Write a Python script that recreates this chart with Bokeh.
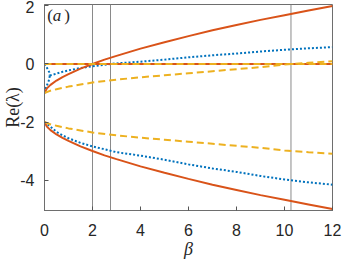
from bokeh.plotting import figure
from bokeh.models import Range1d, SingleIntervalTicker, LinearAxis, Span, Label, PrintfTickFormatter
from bokeh.embed import file_html
from bokeh.resources import INLINE

# ---- data ----
beta_o = [0, 0.1, 0.25, 0.5, 0.75, 1, 1.5, 2, 2.5, 3, 4, 5, 6, 7, 8, 9, 10, 11, 12]
orange_up = [-1.0, -0.84, -0.72, -0.57, -0.45, -0.35, -0.16, 0.0, 0.15, 0.28, 0.53,
             0.75, 0.96, 1.16, 1.34, 1.52, 1.68, 1.84, 2.0]
orange_low = [-2.0, -2.16, -2.28, -2.43, -2.55, -2.65, -2.84, -3.0, -3.15, -3.28, -3.53,
              -3.75, -3.96, -4.16, -4.34, -4.52, -4.68, -4.84, -5.0]

beta_y = [0, 0.25, 0.5, 1, 1.5, 2, 3, 4, 5, 6, 7, 8, 9, 10, 11, 12]
yellow_up = [-1.0, -0.92, -0.87, -0.78, -0.71, -0.64, -0.54, -0.46, -0.39, -0.32,
             -0.25, -0.18, -0.11, -0.02, 0.04, 0.09]
yellow_low = [-2.0, -2.08, -2.13, -2.22, -2.29, -2.36, -2.46, -2.54, -2.61, -2.68,
              -2.75, -2.82, -2.89, -2.98, -3.04, -3.09]

beta_b_pre = [0, 0.05, 0.1, 0.15, 0.2, 0.22]
blue_from0 = [0.0, -0.06, -0.13, -0.2, -0.29, -0.4]
blue_from1 = [-1.0, -0.84, -0.74, -0.64, -0.52, -0.4]
beta_b = [0.22, 0.5, 0.75, 1, 1.5, 2, 2.5, 2.75, 3, 4, 5, 6, 7, 8, 9, 10, 11, 12]
blue_re = [-0.4, -0.33, -0.27, -0.22, -0.14, -0.08, -0.03, 0.0, 0.02, 0.08, 0.15,
           0.23, 0.3, 0.36, 0.43, 0.49, 0.54, 0.58]
beta_bl = [0, 0.1, 0.22, 0.5, 0.75, 1, 1.5, 2, 2.5, 3, 4, 5, 6, 7, 8, 9, 10, 11, 12]
blue_low = [-2.0, -2.07, -2.14, -2.34, -2.46, -2.56, -2.72, -2.84, -2.94, -3.04, -3.16,
            -3.3, -3.46, -3.6, -3.72, -3.86, -3.98, -4.08, -4.16]

beta_zero = [0, 12]
zero_re = [0, 0]

crossings = [2.0, 2.75, 10.27]

BLUE = "#0072BD"
ORANGE = "#D95319"
YELLOW = "#EDB120"
AX = "#262626"

p = figure(width=342, height=261, output_backend="svg", toolbar_location=None,
           x_range=Range1d(0, 12), y_range=Range1d(-5.05, 2.05),
           min_border_left=43, min_border_right=10, min_border_top=4, min_border_bottom=48,
           x_axis_type=None, y_axis_type=None)
p.outline_line_color = "#6e6e6e"
p.outline_line_width = 1
p.background_fill_color = "white"
p.border_fill_color = "white"

xt = SingleIntervalTicker(interval=2, num_minor_ticks=4)
yt = SingleIntervalTicker(interval=2, num_minor_ticks=4)


def style_axis(ax):
    ax.axis_line_color = "#6e6e6e"
    ax.major_tick_in = 4
    ax.major_tick_out = 0
    ax.major_tick_line_color = "#555555"
    ax.minor_tick_line_color = None
    ax.major_label_text_color = AX
    ax.major_label_text_font = "Liberation Sans"
    ax.major_label_text_font_size = "16px"
    ax.formatter = PrintfTickFormatter(format="%d")


xb = LinearAxis(ticker=xt)
style_axis(xb)
xb.major_label_standoff = 9
xb.axis_label = "β"
xb.axis_label_text_font = "Liberation Serif"
xb.axis_label_text_font_style = "italic"
xb.axis_label_text_font_size = "18px"
xb.axis_label_text_color = AX
xb.axis_label_standoff = 0
p.add_layout(xb, "below")

yl = LinearAxis(ticker=yt)
style_axis(yl)
yl.major_label_standoff = 6
yl.axis_label = "Re(λ)"
yl.axis_label_text_font = "Liberation Serif"
yl.axis_label_text_font_style = "normal"
yl.axis_label_text_font_size = "18px"
yl.axis_label_text_color = AX
yl.axis_label_standoff = -6
p.add_layout(yl, "left")

p.xgrid.ticker = xt
p.ygrid.ticker = yt
for g in (p.xgrid, p.ygrid):
    g.grid_line_color = "#dedede"
    g.grid_line_width = 1
    g.minor_grid_line_color = "#cfcfcf"
    g.minor_grid_line_dash = "1 2"
    g.minor_grid_line_width = 1

for c in crossings:
    p.add_layout(Span(location=c, dimension="height", line_color="#8a8a8a",
                      line_width=1, level="underlay"))

LW = 2
# blue dotted
p.line(beta_b_pre, blue_from0, line_color=BLUE, line_width=LW, line_dash="2 2")
p.line(beta_b_pre, blue_from1, line_color=BLUE, line_width=LW, line_dash="2 2")
p.line(beta_b, blue_re, line_color=BLUE, line_width=LW, line_dash="2 2")
p.line(beta_bl, blue_low, line_color=BLUE, line_width=LW, line_dash="2 2")
# orange solid
p.line(beta_zero, zero_re, line_color=ORANGE, line_width=LW)
p.line(beta_o, orange_up, line_color=ORANGE, line_width=LW)
p.line(beta_o, orange_low, line_color=ORANGE, line_width=LW)
# yellow dashed
p.line(beta_zero, zero_re, line_color=YELLOW, line_width=LW, line_dash="7 4")
p.line(beta_y, yellow_up, line_color=YELLOW, line_width=LW, line_dash="7 4")
p.line(beta_y, yellow_low, line_color=YELLOW, line_width=LW, line_dash="7 4")

# panel tag "(a)"
for txt, xx, st in (("(", 0.116, "normal"), ("a", 0.345, "italic"), (")", 0.822, "normal")):
    p.add_layout(Label(x=xx, y=1.68, text=txt, text_font="Liberation Serif",
                       text_font_style=st, text_font_size="17px", text_color=AX,
                       text_baseline="middle", text_align="left"))

open("out.html", "w").write(file_html(p, INLINE))
